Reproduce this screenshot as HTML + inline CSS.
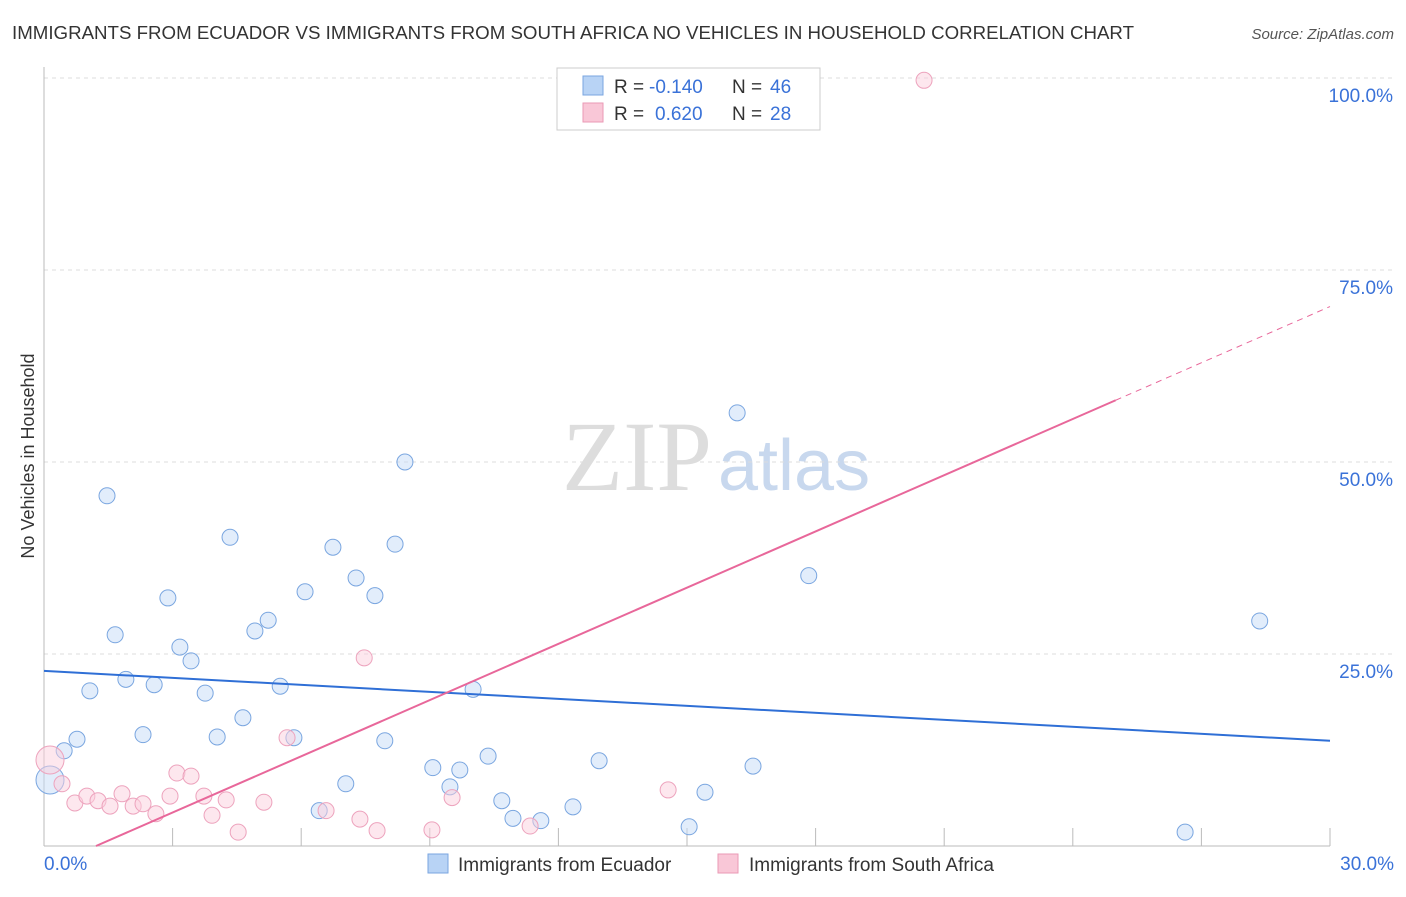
<!DOCTYPE html>
<html><head><meta charset="utf-8"><style>
body{margin:0;background:#fff;font-family:"Liberation Sans",sans-serif}
</style></head><body>
<svg id="c" width="1406" height="892" xmlns="http://www.w3.org/2000/svg" font-family="Liberation Sans, sans-serif">
<text x="12" y="39" font-size="18" fill="#333" textLength="1122" lengthAdjust="spacingAndGlyphs">IMMIGRANTS FROM ECUADOR VS IMMIGRANTS FROM SOUTH AFRICA NO VEHICLES IN HOUSEHOLD CORRELATION CHART</text>
<text x="1394" y="39" font-size="15" fill="#555" font-style="italic" text-anchor="end">Source: ZipAtlas.com</text>
<text x="712" y="490" font-size="100" fill="#ddd" text-anchor="end" font-family="Liberation Serif, serif">ZIP</text>
<text x="718" y="490" font-size="72" fill="#c8d8ee">atlas</text>
<text transform="translate(34,456) rotate(-90)" font-size="18" fill="#333" text-anchor="middle">No Vehicles in Household</text>
<g id="grid"></g><g id="marks"></g>
<g>
<rect x="557" y="68" width="263" height="62" fill="#fff" stroke="#ccc"/>
<rect x="583" y="76" width="20" height="19" fill="#b8d3f5" stroke="#7aa6e0"/>
<rect x="583" y="103" width="20" height="19" fill="#f9c7d7" stroke="#ea9ab5"/>
<text x="614" y="93" font-size="19" fill="#333">R =</text>
<text x="649" y="93" font-size="19" fill="#3a72d8">-0.140</text>
<text x="732" y="93" font-size="19" fill="#333">N =</text>
<text x="770" y="93" font-size="19" fill="#3a72d8">46</text>
<text x="614" y="120" font-size="19" fill="#333">R =</text>
<text x="655" y="120" font-size="19" fill="#3a72d8">0.620</text>
<text x="732" y="120" font-size="19" fill="#333">N =</text>
<text x="770" y="120" font-size="19" fill="#3a72d8">28</text>
</g>
<g>
<rect x="428" y="854" width="20" height="19" fill="#b8d3f5" stroke="#7aa6e0"/>
<text x="458" y="871" font-size="19" fill="#333">Immigrants from Ecuador</text>
<rect x="718" y="854" width="20" height="19" fill="#f9c7d7" stroke="#ea9ab5"/>
<text x="749" y="871" font-size="19" fill="#333">Immigrants from South Africa</text>
</g>
</svg>
<script>
const yTicks=[100,75,50,25];
const yTickLabels=["100.0%","75.0%","50.0%","25.0%"];
const xTickLabels=["0.0%","30.0%"];
const ecuadorX=[0.14,0.47,0.77,1.07,1.47,1.66,1.91,2.31,2.57,2.89,3.17,3.43,3.76,4.04,4.34,4.64,4.92,5.23,5.51,5.83,6.09,6.42,6.74,7.04,7.28,7.72,7.95,8.19,8.42,9.07,9.47,9.70,10.01,10.36,10.68,10.94,11.59,12.34,12.95,15.05,15.42,16.17,16.54,17.84,26.62,28.36];
const ecuadorY=[8.6,12.4,13.9,20.2,45.6,27.5,21.7,14.5,21.0,32.3,25.9,24.1,19.9,14.2,40.2,16.7,28.0,29.4,20.8,14.1,33.1,4.6,38.9,8.1,34.9,32.6,13.7,39.3,50.0,10.2,7.7,9.9,20.4,11.7,5.9,3.6,3.3,5.1,11.1,2.5,7.0,56.4,10.4,35.2,1.8,29.3];
const saX=[0.14,0.42,0.72,1.00,1.26,1.54,1.82,2.08,2.31,2.61,2.94,3.10,3.43,3.73,3.92,4.25,4.53,5.13,5.67,6.58,7.37,7.47,7.77,9.05,9.52,11.34,14.56,20.53];
const saY=[11.2,8.1,5.6,6.5,5.9,5.2,6.8,5.2,5.5,4.2,6.5,9.5,9.1,6.5,4.0,6.0,1.8,5.7,14.1,4.6,3.5,24.5,2.0,2.1,6.3,2.6,7.3,99.7];
const ecuadorTrend=[22.8,13.7];
const saTrend=[-2.96,2.44];
const NS="http://www.w3.org/2000/svg";
const X=v=>44+v*(1286/30), Y=v=>846-v*7.68;
function mk(t,a,p){const e=document.createElementNS(NS,t);for(const k in a)e.setAttribute(k,a[k]);p.appendChild(e);return e;}
const g=document.getElementById('grid'),m=document.getElementById('marks');
yTicks.forEach((t,i)=>{
 const l=mk('line',{x1:44,x2:1394,y1:Y(t),y2:Y(t),stroke:'#ddd','stroke-dasharray':'4,4'},g);
 
 
 const tx=mk('text',{x:1393,y:Y(t)+24,'font-size':19,fill:'#3a72d8','text-anchor':'end'},g);tx.textContent=yTickLabels[i];
 
 
});
const ax=mk('line',{x1:44,x2:44,y1:67,y2:846,stroke:'#bbb'},g);


const bx=mk('line',{x1:44,x2:1330,y1:846,y2:846,stroke:'#bbb'},g);


for(let v=3;v<=30;v+=3){const t=mk('line',{x1:X(v),x2:X(v),y1:828,y2:846,stroke:'#bbb'},g);
 
 }
[[0,'start',44],[30,'end',1394]].forEach((d,i)=>{const t=mk('text',{x:d[2],y:870,'font-size':19,fill:'#3a72d8','text-anchor':d[1]},g);t.textContent=xTickLabels[i];
 
 });
function pts(xs,ys,fill,stroke,name){xs.forEach((x,i)=>{const c=mk('circle',{cx:X(x),cy:Y(ys[i]),r:i==0?14:8,fill,stroke,'stroke-width':1,'fill-opacity':0.5},m);
 
 });}
pts(ecuadorX,ecuadorY,'#c5dbf7','#7aa6e0','ecuador-point');
pts(saX,saY,'#fbd0de','#eda3bd','south-africa-point');
const bl=mk('line',{x1:X(0),y1:Y(ecuadorTrend[0]),x2:X(30),y2:Y(ecuadorTrend[1]),stroke:'#2f6fd6','stroke-width':2},m);


const x0=-saTrend[0]/saTrend[1],xs=25;
const pl=mk('line',{x1:X(x0),y1:Y(0),x2:X(xs),y2:Y(saTrend[0]+saTrend[1]*xs),stroke:'#e8679a','stroke-width':2},m);


const pd=mk('line',{x1:X(xs),y1:Y(saTrend[0]+saTrend[1]*xs),x2:X(30),y2:Y(saTrend[0]+saTrend[1]*30),stroke:'#e8679a','stroke-width':1,'stroke-dasharray':'6,5'},m);


</script>
</body></html>
